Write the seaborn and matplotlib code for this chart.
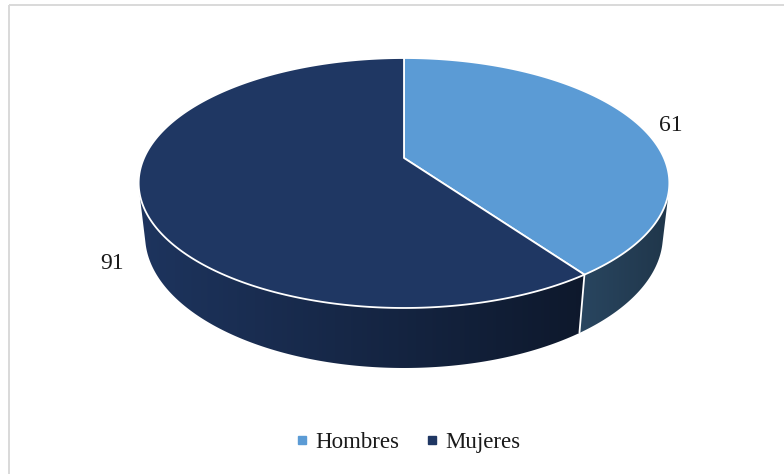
import numpy as np
import matplotlib
matplotlib.use("Agg")
import matplotlib.pyplot as plt
from matplotlib.patches import Polygon
from matplotlib.lines import Line2D
import seaborn as sns

# Data
categories = ["Hombres", "Mujeres"]
counts = [61, 91]
colors = ["#5B9BD5", "#1F3763"]

sns.set_theme(style="white")
plt.rcParams["font.family"] = ["Liberation Serif", "DejaVu Serif"]

W, H_PX = 784, 474
fig = plt.figure(figsize=(W / 100, H_PX / 100), dpi=100)
ax = fig.add_axes([0, 0, 1, 1])

# Perspective camera for the tilted disc
CX, CY = 404.0, 158.0       # screen position of the disc centre
FOC = 1153.0                # focal length in pixels
DIST = 4.435                # camera distance (disc radius = 1)
SIN_T, COS_T = 0.4615, 0.887
THICK = 0.23                # disc thickness


def proj(theta_deg, r=1.0, h=0.0):
    t = np.radians(theta_deg)
    u = r * np.sin(t)
    w = r * np.cos(t)
    depth = DIST + w * COS_T - h * SIN_T
    yc = w * SIN_T + h * COS_T
    return CX + FOC * u / depth, CY - FOC * yc / depth


# Silhouette generators of the cylinder wall
SIL = np.degrees(np.arccos(-1.0 / (DIST * COS_T)))
WALL_FROM, WALL_TO = SIL, 360.0 - SIL

# Slice angles, clockwise from 12 o'clock
total = sum(counts)
bounds = np.concatenate([[0], np.cumsum(counts) / total * 360.0])

X_MIN, X_MAX = 138.0, 669.0


def shade_row(base, xs):
    t = np.clip((xs - X_MIN) / (X_MAX - X_MIN), 0, 1)
    f = 0.95 - 0.6 * t
    rgb = np.array(matplotlib.colors.to_rgb(base))[None, :] * f[:, None]
    return np.clip(rgb, 0, 1)


# Visible outer walls, filled with a horizontal shading gradient
xs = np.linspace(X_MIN - 6, X_MAX + 6, 600)
for i, base in enumerate(colors):
    a0 = max(bounds[i], WALL_FROM)
    a1 = min(bounds[i + 1], WALL_TO)
    if a1 <= a0:
        continue
    th = np.linspace(a0, a1, 300)
    top = [proj(t, h=0) for t in th]
    bot = [proj(t, h=-THICK) for t in th[::-1]]
    wall = Polygon(top + bot, closed=True, facecolor="none",
                   edgecolor="none", transform=ax.transData)
    ax.add_patch(wall)
    grad = shade_row(base, xs)[None, :, :]
    im = ax.imshow(grad, extent=(xs[0], xs[-1], H_PX, 0), aspect="auto",
                   interpolation="bilinear", zorder=1)
    im.set_clip_path(wall)

# White seam on the wall between slices
for b in bounds[1:-1]:
    if WALL_FROM < b < WALL_TO:
        xa, ya = proj(b, h=0)
        xb, yb = proj(b, h=-THICK)
        ax.plot([xa, xb], [ya, yb], color="white", lw=1.3, zorder=2,
                solid_capstyle="butt")

# Top faces
for i, base in enumerate(colors):
    th = np.linspace(bounds[i], bounds[i + 1], 400)
    pts = [proj(t) for t in th]
    verts = [(CX, CY)] + pts
    ax.add_patch(Polygon(verts, closed=True, facecolor=base,
                         edgecolor="white", lw=1.3, joinstyle="round",
                         zorder=3))

# Value labels
label_pos = [(1.155, -0.03), (1.13, -0.26)]
for i, v in enumerate(counts):
    mid = (bounds[i] + bounds[i + 1]) / 2
    r, h = label_pos[i]
    lx, ly = proj(mid, r=r, h=h)
    ax.text(lx, ly, str(v), fontsize=17, color="#1a1a1a",
            ha="center", va="center", zorder=5)

# Chart frame
frame_kw = dict(color="#D9D9D9", lw=1.4, zorder=0, solid_capstyle="butt")
ax.plot([9.5, 9.5], [4.5, H_PX], **frame_kw)
ax.plot([9.5, W], [4.5, 4.5], **frame_kw)

ax.set_xlim(0, W)
ax.set_ylim(H_PX, 0)
ax.axis("off")

# Legend
handles = [Line2D([], [], marker="s", linestyle="none", markersize=5.5,
                  markerfacecolor=c, markeredgecolor=c) for c in colors]
fig.legend(handles, categories, loc="center", ncol=2,
           bbox_to_anchor=(0.52, 0.067), frameon=False,
           prop={"size": 16.5}, handlelength=0.6, handletextpad=0.3,
           columnspacing=1.1, labelcolor="#1a1a1a")

fig.savefig("out.png", dpi=100)
